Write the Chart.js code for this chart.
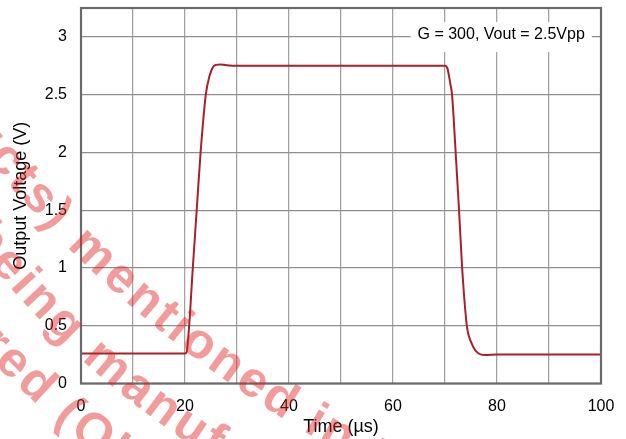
<!DOCTYPE html>
<html>
<head>
<meta charset="utf-8">
<script src="https://cdn.jsdelivr.net/npm/chart.js@4.4.1/dist/chart.umd.min.js"></script>
<style>
  html, body { margin: 0; padding: 0; background: #fff; }
  #wrap { width: 626px; height: 439px; }
</style>
</head>
<body>
<div id="wrap"><canvas id="stepChart" width="626" height="439"></canvas></div>
<script>
let timeUs  = [0, 10, 20, 20.3, 20.8, 21.5, 22.25, 23.0, 24.0, 24.7, 25.4, 26.0, 26.7, 28, 30, 40, 50, 60, 70, 70.45, 71.0, 71.35, 72.05, 72.7, 73.3, 74.2, 75.1, 76.4, 77.7, 80, 90, 100];
let outputV = [0.26, 0.26, 0.26, 0.27, 0.5, 1.0, 1.5, 2.0, 2.5, 2.66, 2.74, 2.758, 2.762, 2.755, 2.75, 2.75, 2.75, 2.75, 2.75, 2.73, 2.6, 2.5, 2.0, 1.5, 1.0, 0.5, 0.35, 0.262, 0.247, 0.252, 0.25, 0.25];
let xTickLabels = [0, 20, 40, 60, 80, 100];
let yTickLabels = [0, 0.5, 1, 1.5, 2, 2.5, 3];
let noteText = "G = 300, Vout = 2.5Vpp";
let stampLines = ["Products) mentioned in this", "are being manufactured", "manufactured (Obsolete)"];
let stampKeys = ["mentioned", "manu", "(O"];

const FONT = '"Liberation Sans", Arial, Helvetica, sans-serif';
const LINE_RED = "#a8202a";

// white label box sitting on the 3 V grid line
const notePlugin = {
  id: "note",
  beforeDatasetsDraw(chart) {
    const ctx = chart.ctx;
    const xs = chart.scales.x, ys = chart.scales.y;
    ctx.save();
    ctx.font = "16px " + FONT;
    const w = ctx.measureText(noteText).width;
    const cx = xs.getPixelForValue(80.8);
    const cy = ys.getPixelForValue(3.0);
    ctx.fillStyle = "#fff";
    ctx.fillRect(cx - w / 2 - 7, cy - 15, w + 14, 30);
    ctx.fillStyle = "#000";
    ctx.textAlign = "center";
    ctx.textBaseline = "middle";
    ctx.fillText(noteText, cx, cy - 2);
    ctx.restore();
  }
};

// frame around the plot area
const framePlugin = {
  id: "frame",
  afterDatasetsDraw(chart) {
    const a = chart.chartArea;
    const ctx = chart.ctx;
    ctx.save();
    ctx.strokeStyle = "#6a6a6a";
    ctx.lineWidth = 2.2;
    ctx.strokeRect(a.left, a.top, a.right - a.left, a.bottom - a.top);
    ctx.restore();
  }
};

// the pink watermark, three lines on wide arcs
const stampPlugin = {
  id: "stamp",
  afterDraw(chart) {
    const ctx = chart.ctx;
    const arcs = [
      { cx: 925.6, cy: -611.2, r: 1200, deg: 134.0 },
      { cx: 699, cy: -322, r: 906, deg: 130.8 },
      { cx: 699, cy: -322, r: 969, deg: 130.6 }
    ];
    const gap = 3;
    ctx.save();
    ctx.font = "bold 50px " + FONT;
    ctx.fillStyle = "rgba(226, 34, 34, 0.45)";
    ctx.textAlign = "center";
    ctx.textBaseline = "middle";
    stampLines.forEach((txt, i) => {
      const a = arcs[i];
      const chars = [...txt];
      let pos = [], s = 0;
      chars.forEach(ch => {
        const w = ctx.measureText(ch).width;
        pos.push(s + w / 2);
        s += w + gap;
      });
      const k = txt.indexOf(stampKeys[i]);
      const base = a.deg * Math.PI / 180;
      chars.forEach((ch, j) => {
        const phi = base - (pos[j] - pos[k]) / a.r;
        ctx.save();
        ctx.translate(a.cx + a.r * Math.cos(phi), a.cy + a.r * Math.sin(phi));
        ctx.rotate(phi - Math.PI / 2);
        ctx.fillText(ch, 0, 0);
        ctx.restore();
      });
    });
    ctx.restore();
  }
};

new Chart(document.getElementById("stepChart"), {
  type: "line",
  data: {
    datasets: [{
      data: timeUs.map((t, i) => ({ x: t, y: outputV[i] })),
      borderColor: LINE_RED,
      borderWidth: 2,
      pointRadius: 0,
      fill: false,
      cubicInterpolationMode: "monotone"
    }]
  },
  options: {
    responsive: false,
    animation: false,
    devicePixelRatio: 1,
    layout: { padding: { top: 8, right: 25, left: 0, bottom: 0 } },
    plugins: { legend: { display: false }, tooltip: { enabled: false } },
    scales: {
      x: {
        type: "linear",
        min: 0,
        max: 100,
        afterFit(scale) {
          scale.height = 55.5;
          scale.paddingLeft = 0;
          scale.paddingRight = 0;
        },
        ticks: {
          stepSize: 10,
          padding: 13,
          color: "#000",
          font: { family: FONT, size: 16 },
          maxRotation: 0,
          autoSkip: false,
          callback: v => xTickLabels.includes(v) ? String(v) : ""
        },
        grid: { color: "#a3a3a3", lineWidth: 1.3, drawTicks: false },
        border: { display: false },
        title: {
          display: true,
          text: "Time (µs)",
          color: "#000",
          font: { family: FONT, size: 18 },
          padding: { top: 0, bottom: 1 }
        }
      },
      y: {
        type: "linear",
        min: 0,
        max: 3.25,
        afterFit(scale) {
          scale.width = 81;
          scale.paddingTop = 0;
          scale.paddingBottom = 0;
        },
        afterBuildTicks(scale) {
          scale.ticks = scale.ticks.filter(t => t.value <= 3.0001);
        },
        ticks: {
          stepSize: 0.5,
          padding: 14,
          color: "#000",
          font: { family: FONT, size: 16 },
          callback: v => yTickLabels.includes(v) ? String(v) : ""
        },
        grid: { color: "#8f8f8f", lineWidth: 1.3, drawTicks: false },
        border: { display: false },
        title: {
          display: true,
          text: "Output Voltage (V)",
          color: "#000",
          font: { family: FONT, size: 18 },
          padding: { top: 10, bottom: 0 }
        }
      }
    }
  },
  plugins: [notePlugin, framePlugin, stampPlugin]
});
</script>
</body>
</html>
